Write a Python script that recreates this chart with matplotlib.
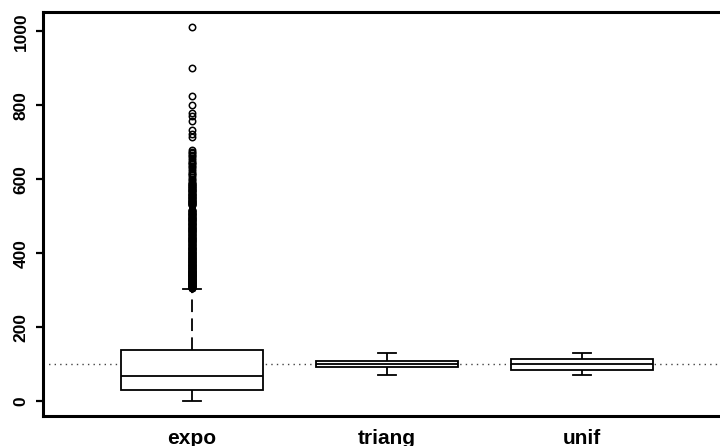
import matplotlib.pyplot as plt

# summary statistics for each sample
labels = ['expo', 'triang', 'unif']
q1 = [29, 91.2, 85]
medians = [69, 100, 100]
q3 = [139, 108.8, 115]
whisker_lo = [0, 71, 70.5]
whisker_hi = [303, 129, 129.5]

# points beyond the upper whisker of the exponential sample
expo_outliers = [
    1012, 901, 824, 801, 778, 770, 758, 733, 723, 713,
    678, 673, 670, 666, 662, 657, 652, 648, 644, 640, 636, 632, 628,
    622, 618, 614, 611, 606, 601, 597, 593, 590,
    588, 586, 584, 582, 581, 579, 577, 575, 574, 572, 570, 568, 567,
    565, 563, 561, 560, 558, 557, 555, 553, 551, 550, 548, 547, 545,
    544, 542, 541, 539, 538, 536, 535, 533, 532, 530, 529, 518, 516,
    514, 513, 511, 510, 508, 507, 505, 504, 502, 501, 499, 498, 496,
    495, 493, 492, 490, 489, 487, 486, 484, 483, 481, 480, 478, 477,
    475, 474, 472, 471, 469, 468, 466, 465, 463, 462, 460, 459, 457,
    456, 454, 453, 451, 450, 448, 447, 445, 444, 442, 441, 439, 438,
    436, 435, 433, 432, 430, 429, 427, 426, 424, 423, 421, 420, 418,
    417, 415, 414, 412, 411, 410, 408, 407, 405, 404, 403, 401, 400,
    398, 397, 396, 394, 393, 392, 390, 389, 388, 386, 385, 384, 383,
    381, 380, 379, 378, 376, 375, 374, 373, 371, 370, 369, 368, 367,
    366, 364, 363, 362, 361, 360, 359, 358, 357, 355, 354, 353, 352,
    351, 350, 349, 348, 347, 346, 345, 344, 343, 342, 341, 340, 339,
    338, 337, 336, 335, 334, 333, 332, 331, 330, 329, 328, 327, 326,
    325, 324, 323, 322, 321, 320, 319, 318, 317, 316, 315, 314, 313,
    312, 311, 310, 309, 308, 307, 306, 305,
]
ref_level = 100
y_ticks = [0, 200, 400, 600, 800, 1000]

plt.rcParams['font.family'] = ['Liberation Sans', 'DejaVu Sans']
plt.rcParams['font.weight'] = 'bold'

fig = plt.figure(figsize=(7.2, 4.46), dpi=100)
ax = fig.add_axes([43 / 720, 30 / 446, 677 / 720, 404 / 446])

# dotted reference line at the common mean
ax.axhline(ref_level, color='#444444', lw=1, linestyle=(0, (1, 3)), zorder=1)

stats = []
for i, name in enumerate(labels):
    stats.append(dict(label=name, q1=q1[i], med=medians[i], q3=q3[i],
                      whislo=whisker_lo[i], whishi=whisker_hi[i],
                      fliers=expo_outliers if i == 0 else []))

ax.bxp(stats, positions=[1, 2, 3], widths=0.725, capwidths=0.092,
       patch_artist=True, zorder=2,
       boxprops=dict(facecolor='white', edgecolor='black', linewidth=1.3),
       medianprops=dict(color='black', linewidth=1.3),
       whiskerprops=dict(color='black', linewidth=1.3, linestyle=(0, (7, 3.5))),
       capprops=dict(color='black', linewidth=1.3),
       flierprops=dict(marker='o', markerfacecolor='none', markeredgecolor='black',
                       markersize=4.6, markeredgewidth=1.1))

ax.set_xlim(0.236, 3.708)
ax.set_ylim(-40.5, 1052.5)

ax.spines['right'].set_visible(False)
for side in ['left', 'top', 'bottom']:
    ax.spines[side].set_linewidth(2.2)

ax.set_yticks(y_ticks)
ax.set_yticklabels([str(v) for v in y_ticks])
ax.tick_params(axis='y', length=5, width=1.6, pad=5.5, labelsize=12.5)
for lab in ax.get_yticklabels():
    lab.set_rotation(90)
    lab.set_va('center')
ax.tick_params(axis='x', length=0, pad=9, labelsize=15)

fig.savefig('out.png', dpi=100)
